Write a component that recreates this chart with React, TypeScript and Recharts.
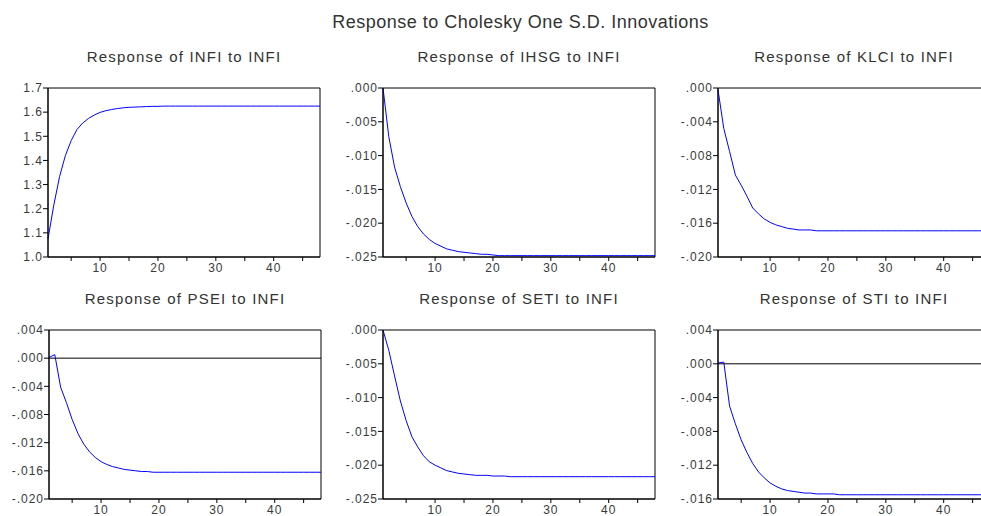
import React from "react";
import { LineChart, Line, XAxis, YAxis, ReferenceArea, ReferenceLine } from "recharts";

// impulse response periods
const periods = [
  1, 2, 3, 4, 5, 6, 7, 8, 9, 10, 11, 12, 13, 14, 15, 16, 17, 18, 19, 20, 21, 22, 23, 24,
  25, 26, 27, 28, 29, 30, 31, 32, 33, 34, 35, 36, 37, 38, 39, 40, 41, 42, 43, 44, 45, 46, 47, 48,
];

const infiResp = [
  1.075, 1.215, 1.333, 1.42, 1.482, 1.528, 1.555, 1.574, 1.588, 1.599, 1.606, 1.611,
  1.615, 1.618, 1.62, 1.621, 1.622, 1.623, 1.624, 1.624, 1.625, 1.625, 1.625, 1.625,
  1.625, 1.625, 1.625, 1.625, 1.625, 1.625, 1.625, 1.625, 1.625, 1.625, 1.625, 1.625,
  1.625, 1.625, 1.625, 1.625, 1.625, 1.625, 1.625, 1.625, 1.625, 1.625, 1.625, 1.625,
];

const ihsgResp = [
  0.0, -0.0072, -0.0117, -0.0146, -0.017, -0.019, -0.0205, -0.0216, -0.0224, -0.023, -0.0234, -0.0238,
  -0.024, -0.0242, -0.0243, -0.0244, -0.0245, -0.0246, -0.0246, -0.0247, -0.0248, -0.0248, -0.0248, -0.0248,
  -0.0248, -0.0248, -0.0248, -0.0248, -0.0248, -0.0248, -0.0248, -0.0248, -0.0248, -0.0248, -0.0248, -0.0248,
  -0.0248, -0.0248, -0.0248, -0.0248, -0.0248, -0.0248, -0.0248, -0.0248, -0.0248, -0.0248, -0.0248, -0.0248,
];

const klciResp = [
  -0.0002, -0.0048, -0.0075, -0.0103, -0.0115, -0.0128, -0.0142, -0.0149, -0.0155, -0.0159, -0.0162, -0.0164,
  -0.0166, -0.0167, -0.0168, -0.0168, -0.0168, -0.0169, -0.0169, -0.0169, -0.0169, -0.0169, -0.0169, -0.0169,
  -0.0169, -0.0169, -0.0169, -0.0169, -0.0169, -0.0169, -0.0169, -0.0169, -0.0169, -0.0169, -0.0169, -0.0169,
  -0.0169, -0.0169, -0.0169, -0.0169, -0.0169, -0.0169, -0.0169, -0.0169, -0.0169, -0.0169, -0.0169, -0.0169,
];

const pseiResp = [
  0.0001, 0.0005, -0.0041, -0.0063, -0.0087, -0.0107, -0.0122, -0.0133, -0.0141, -0.0147, -0.0151, -0.0154,
  -0.0156, -0.0158, -0.0159, -0.016, -0.0161, -0.0161, -0.0162, -0.0162, -0.0162, -0.0162, -0.0162, -0.0162,
  -0.0162, -0.0162, -0.0162, -0.0162, -0.0162, -0.0162, -0.0162, -0.0162, -0.0162, -0.0162, -0.0162, -0.0162,
  -0.0162, -0.0162, -0.0162, -0.0162, -0.0162, -0.0162, -0.0162, -0.0162, -0.0162, -0.0162, -0.0162, -0.0162,
];

const setiResp = [
  0.0, -0.003, -0.0068, -0.0105, -0.0134, -0.0158, -0.0173, -0.0186, -0.0195, -0.02, -0.0204, -0.0208,
  -0.021, -0.0212, -0.0213, -0.0214, -0.0215, -0.0215, -0.0215, -0.0216, -0.0216, -0.0216, -0.0217, -0.0217,
  -0.0217, -0.0217, -0.0217, -0.0217, -0.0217, -0.0217, -0.0217, -0.0217, -0.0217, -0.0217, -0.0217, -0.0217,
  -0.0217, -0.0217, -0.0217, -0.0217, -0.0217, -0.0217, -0.0217, -0.0217, -0.0217, -0.0217, -0.0217, -0.0217,
];

const stiResp = [
  0.0001, 0.0002, -0.005, -0.0071, -0.009, -0.0105, -0.0118, -0.0128, -0.0135, -0.0141, -0.0145, -0.0148,
  -0.015, -0.0151, -0.0152, -0.0153, -0.0153, -0.0154, -0.0154, -0.0154, -0.0154, -0.0155, -0.0155, -0.0155,
  -0.0155, -0.0155, -0.0155, -0.0155, -0.0155, -0.0155, -0.0155, -0.0155, -0.0155, -0.0155, -0.0155, -0.0155,
  -0.0155, -0.0155, -0.0155, -0.0155, -0.0155, -0.0155, -0.0155, -0.0155, -0.0155, -0.0155, -0.0155, -0.0155,
];

const xTicks = [5, 10, 15, 20, 25, 30, 35, 40, 45];
const ticksInfi = [1.0, 1.1, 1.2, 1.3, 1.4, 1.5, 1.6, 1.7];
const ticks005 = [-0.025, -0.02, -0.015, -0.01, -0.005, 0];
const ticks004a = [-0.02, -0.016, -0.012, -0.008, -0.004, 0];
const ticks004b = [-0.02, -0.016, -0.012, -0.008, -0.004, 0, 0.004];
const ticks004c = [-0.016, -0.012, -0.008, -0.004, 0, 0.004];

const fmt1 = (v: number) => v.toFixed(1);
const fmt3 = (v: number) => v.toFixed(3).replace("0.", ".");

const panels = [
  { title: "Response of INFI to INFI", values: infiResp, ticks: ticksInfi, fmt: fmt1, zero: false, x: 48, y: 88 },
  { title: "Response of IHSG to INFI", values: ihsgResp, ticks: ticks005, fmt: fmt3, zero: false, x: 383, y: 88 },
  { title: "Response of KLCI to INFI", values: klciResp, ticks: ticks004a, fmt: fmt3, zero: false, x: 718, y: 88 },
  { title: "Response of PSEI to INFI", values: pseiResp, ticks: ticks004b, fmt: fmt3, zero: true, x: 49, y: 330 },
  { title: "Response of SETI to INFI", values: setiResp, ticks: ticks005, fmt: fmt3, zero: false, x: 383, y: 330 },
  { title: "Response of STI to INFI", values: stiResp, ticks: ticks004c, fmt: fmt3, zero: true, x: 718, y: 330 },
];

const PW = 272; // plot width
const PH = 169; // plot height
const YW = 48;
const tickStyle = { fill: "#3a3a3a", fontSize: 12, letterSpacing: 1 };

function Panel({ p }: any) {
  const data = periods.map((t, i) => ({ t, v: p.values[i] }));
  const lo = p.ticks[0];
  const hi = p.ticks[p.ticks.length - 1];
  return (
    <div style={{ position: "absolute", left: p.x - YW, top: p.y - 10 }}>
      <div
        style={{
          position: "absolute",
          left: YW,
          width: PW,
          top: -30,
          textAlign: "center",
          fontSize: 15,
          letterSpacing: 1.2,
          color: "#333",
          whiteSpace: "nowrap",
        }}
      >
        {p.title}
      </div>
      <LineChart width={YW + PW + 10} height={10 + PH + 24} data={data} margin={{ top: 10, right: 10, bottom: 0, left: 0 }}>
        <XAxis
          dataKey="t"
          type="number"
          domain={[1, 48]}
          ticks={xTicks}
          interval={0}
          tickFormatter={(v: number) => (v % 10 === 0 ? String(v) : "")}
          tickSize={4}
          tickMargin={2}
          stroke="#000"
          tick={tickStyle}
          height={24}
        />
        <YAxis
          type="number"
          domain={[lo, hi]}
          ticks={p.ticks}
          interval={0}
          allowDataOverflow
          tickFormatter={p.fmt}
          width={YW}
          tickSize={5}
          tickMargin={0}
          stroke="#000"
          tick={tickStyle}
        />
        <ReferenceArea x1={1} x2={48} y1={lo} y2={hi} fill="none" stroke="#000" strokeWidth={1} fillOpacity={0} />
        {p.zero && <ReferenceLine y={0} stroke="#000" strokeWidth={1} />}
        <Line type="linear" dataKey="v" stroke="#0000ff" strokeWidth={1} dot={false} isAnimationActive={false} />
      </LineChart>
    </div>
  );
}

export default function App() {
  return (
    <div
      style={{
        position: "fixed",
        left: 0,
        top: 0,
        width: 981,
        height: 516,
        overflow: "hidden",
        background: "#fff",
        fontFamily: "'Liberation Sans', Arial, sans-serif",
      }}
    >
      <div
        style={{
          position: "absolute",
          left: 0,
          width: 1041,
          top: 12,
          textAlign: "center",
          fontSize: 18,
          letterSpacing: 0.5,
          color: "#333",
          whiteSpace: "nowrap",
        }}
      >
        Response to Cholesky One S.D. Innovations
      </div>
      {panels.map((p) => (
        <Panel key={p.title} p={p} />
      ))}
    </div>
  );
}
